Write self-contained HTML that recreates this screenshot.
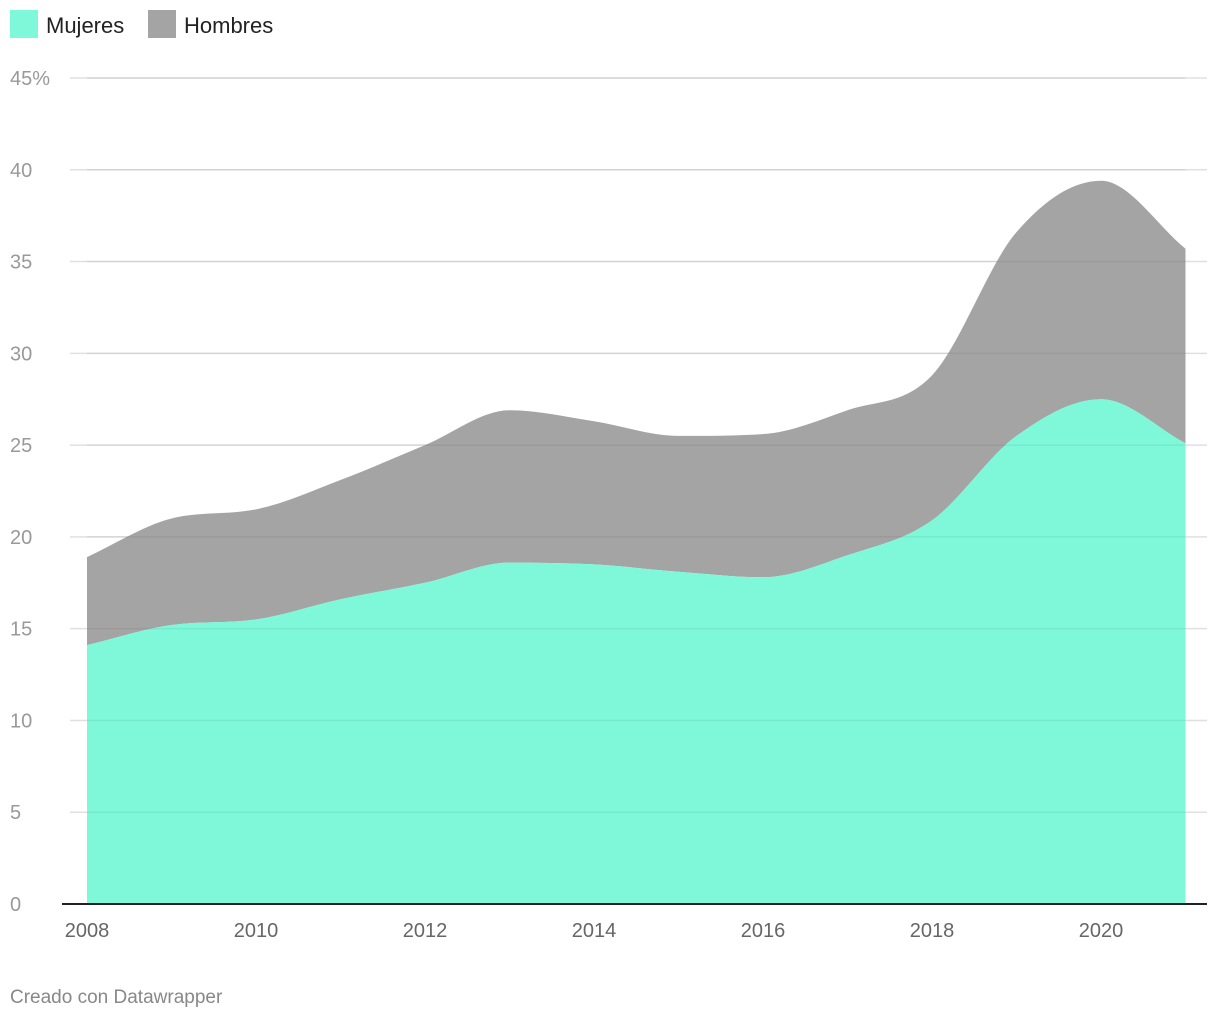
<!DOCTYPE html>
<html><head><meta charset="utf-8"><style>
body{margin:0;background:#fff;font-family:"Liberation Sans",sans-serif;}
svg text{font-family:"Liberation Sans",sans-serif;}
</style></head><body>
<svg width="1220" height="1020">
<g>
<rect x="10" y="10" width="28" height="28" fill="#7ff8da"/>
<text x="46" y="33" font-size="22" fill="#222">Mujeres</text>
<rect x="148" y="10" width="28" height="28" fill="#a4a4a4"/>
<text x="184" y="33" font-size="22" fill="#222">Hombres</text>
</g>
<g id="grid"></g>
<g id="areas"></g>
<g id="gridTop"></g>
<g id="axes"></g>
<text x="10" y="1003" font-size="19" fill="#888">Creado con Datawrapper</text>
</svg>
<script>
const years=[2008,2009,2010,2011,2012,2013,2014,2015,2016,2017,2018,2019,2020,2021];
const mujeres=[14.1,15.2,15.5,16.6,17.5,18.6,18.5,18.1,17.8,19.0,20.9,25.5,27.5,25.1];
const hombres=[4.8,5.8,6.0,6.5,7.5,8.3,7.8,7.4,7.8,7.9,7.9,11.1,11.9,10.6];
const yTicks=[0,5,10,15,20,25,30,35,40,45];
const xTicks=[2008,2010,2012,2014,2016,2018,2020];
const NS="http://www.w3.org/2000/svg";
const X=v=>87+(v-2008)*84.5, Y=v=>904-v*826/45;
function mk(t,a,p){const e=document.createElementNS(NS,t);for(const k in a)e.setAttribute(k,a[k]);p.appendChild(e);return e;}
function mono(pts){const n=pts.length,d=[],m=[];for(let i=0;i<n-1;i++)d.push((pts[i+1][1]-pts[i][1])/(pts[i+1][0]-pts[i][0]));
for(let i=0;i<n;i++){if(i==0)m.push(d[0]);else if(i==n-1)m.push(d[n-2]);else m.push(d[i-1]*d[i]<=0?0:(d[i-1]+d[i])/2);}
for(let i=0;i<n-1;i++){if(d[i]==0){m[i]=m[i+1]=0;continue;}const a=m[i]/d[i],b=m[i+1]/d[i],s=a*a+b*b;if(s>9){const t=3/Math.sqrt(s);m[i]=t*a*d[i];m[i+1]=t*b*d[i];}}
let s="";for(let i=0;i<n-1;i++){const h=(pts[i+1][0]-pts[i][0])/3;s+=` C${pts[i][0]+h},${pts[i][1]+m[i]*h} ${pts[i+1][0]-h},${pts[i+1][1]-m[i+1]*h} ${pts[i+1][0]},${pts[i+1][1]}`;}return s;}
const grid=document.getElementById('grid'),gt=document.getElementById('gridTop'),ax=document.getElementById('axes'),ar=document.getElementById('areas');
yTicks.forEach(v=>{if(v>0){const l=mk('line',{x1:70,x2:1207,y1:Y(v),y2:Y(v),stroke:'#e0e0e0','stroke-width':1.5},grid);

const l2=mk('line',{x1:87,x2:X(2021),y1:Y(v),y2:Y(v),stroke:'rgba(0,0,0,0.06)','stroke-width':1.5},gt);
}
const t=mk('text',{x:10,y:Y(v)+7,'font-size':20,fill:'#999'},ax);t.textContent=v==45?'45%':v;
});
const tot=mujeres.map((v,i)=>v+hombres[i]);
const pm=years.map((y,i)=>[X(y),Y(mujeres[i])]),pt=years.map((y,i)=>[X(y),Y(tot[i])]);
const rev=a=>a.slice().reverse();
const hp=mk('path',{d:`M${pt[0][0]},${pt[0][1]}`+mono(pt)+` L${pm[pm.length-1][0]},${pm[pm.length-1][1]}`+mono(rev(pm))+'Z',fill:'#a4a4a4'},ar);

const mp=mk('path',{d:`M${pm[0][0]},${pm[0][1]}`+mono(pm)+` L${X(2021)},${Y(0)} L${X(2008)},${Y(0)}Z`,fill:'#7ff8da'},ar);

const base=mk('line',{x1:62,x2:1207,y1:Y(0),y2:Y(0),stroke:'#222','stroke-width':2},ax);

xTicks.forEach(v=>{const t=mk('text',{x:X(v),y:937,'font-size':20,fill:'#666','text-anchor':'middle'},ax);t.textContent=v;
});
</script>
</body></html>
